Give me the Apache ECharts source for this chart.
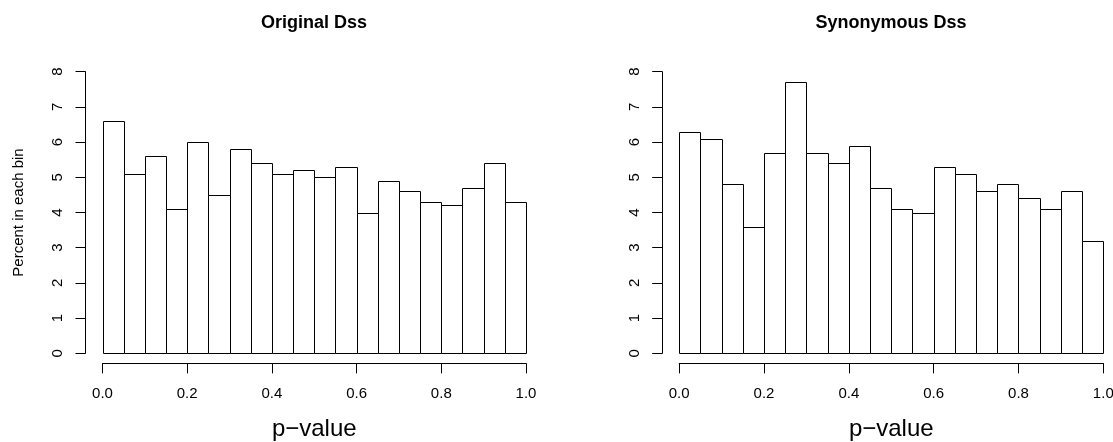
<!DOCTYPE html>
<html>
<head>
<meta charset="utf-8">
<script src="https://cdn.jsdelivr.net/npm/echarts@6/dist/echarts.min.js"></script>
<style>
html, body { margin: 0; padding: 0; background: #fff; }
#chart { width: 1113px; height: 442px; }
</style>
</head>
<body>
<div id="chart"></div>
<script>
// histogram bins (p-value), 0.05 wide
const binStarts = [0.00, 0.05, 0.10, 0.15, 0.20, 0.25, 0.30, 0.35, 0.40, 0.45,
                   0.50, 0.55, 0.60, 0.65, 0.70, 0.75, 0.80, 0.85, 0.90, 0.95];
const binEnds = [0.05, 0.10, 0.15, 0.20, 0.25, 0.30, 0.35, 0.40, 0.45, 0.50,
                 0.55, 0.60, 0.65, 0.70, 0.75, 0.80, 0.85, 0.90, 0.95, 1.00];
// percent in each bin
const originalPct = [6.6, 5.1, 5.6, 4.1, 6.0, 4.5, 5.8, 5.4, 5.1, 5.2,
                     5.0, 5.3, 4.0, 4.9, 4.6, 4.3, 4.2, 4.7, 5.4, 4.3];
const synonymousPct = [6.3, 6.1, 4.8, 3.6, 5.7, 7.7, 5.7, 5.4, 5.9, 4.7,
                       4.1, 4.0, 5.3, 5.1, 4.6, 4.8, 4.4, 4.1, 4.6, 3.2];
const panelTitles = ["Original Dss", "Synonymous Dss"];

const chart = echarts.init(document.getElementById("chart"));

const toBins = (vals) => vals.map((v, i) => [binStarts[i], binEnds[i], v]);

const renderBin = (params, api) => {
  const p0 = api.coord([api.value(0), 0]);
  const p1 = api.coord([api.value(1), api.value(2)]);
  const x0 = Math.round(p0[0]) + 0.5;
  const x1 = Math.round(p1[0]) + 0.5;
  const yb = Math.round(p0[1]) + 0.5;
  const yt = Math.round(p1[1]) + 0.5;
  return {
    type: "rect",
    shape: { x: x0, y: yt, width: x1 - x0, height: yb - yt },
    style: { fill: "#fff", stroke: "#000", lineWidth: 1 }
  };
};

const font = "Liberation Sans, Arial, Helvetica, sans-serif";

const makeX = (idx) => ({
  gridIndex: idx,
  type: "value",
  min: 0,
  max: 1,
  interval: 0.2,
  offset: 10,
  axisLine: { show: true, onZero: false, lineStyle: { color: "#000", width: 1 } },
  axisTick: { show: true, length: 10, lineStyle: { color: "#000" } },
  axisLabel: {
    fontSize: 15, color: "#000", fontFamily: font, margin: 23,
    formatter: (v) => v.toFixed(1)
  },
  splitLine: { show: false },
  name: "p−value",
  nameLocation: "middle",
  nameGap: 54,
  nameTextStyle: { fontSize: 24, color: "#000", fontFamily: font }
});

const makeY = (idx, name) => ({
  gridIndex: idx,
  type: "value",
  min: 0,
  max: 8,
  interval: 1,
  offset: 17,
  axisLine: { show: true, onZero: false, lineStyle: { color: "#000", width: 1 } },
  axisTick: { show: true, length: 10, lineStyle: { color: "#000" } },
  axisLabel: { fontSize: 15, color: "#000", fontFamily: font, rotate: 90, margin: 20 },
  splitLine: { show: false },
  name: name,
  nameLocation: "middle",
  nameGap: 59,
  nameTextStyle: { fontSize: 15, color: "#000", fontFamily: font }
});

const option = {
  animation: false,
  backgroundColor: "#fff",
  title: [
    {
      text: panelTitles[0], left: 314, top: 14, textAlign: "center", padding: 0,
      textStyle: { fontSize: 18, fontWeight: "bold", color: "#000", fontFamily: font }
    },
    {
      text: panelTitles[1], left: 891, top: 14, textAlign: "center", padding: 0,
      textStyle: { fontSize: 18, fontWeight: "bold", color: "#000", fontFamily: font }
    }
  ],
  grid: [
    { left: 102.5, right: 587, top: 71.7, bottom: 88.7, outerBoundsMode: "none", containLabel: false },
    { left: 679.2, right: 9.7, top: 71.7, bottom: 88.7, outerBoundsMode: "none", containLabel: false }
  ],
  xAxis: [makeX(0), makeX(1)],
  yAxis: [makeY(0, "Percent in each bin"), makeY(1, "")],
  series: [
    {
      type: "custom",
      xAxisIndex: 0, yAxisIndex: 0,
      renderItem: renderBin,
      encode: { x: [0, 1], y: 2 },
      data: toBins(originalPct)
    },
    {
      type: "custom",
      xAxisIndex: 1, yAxisIndex: 1,
      renderItem: renderBin,
      encode: { x: [0, 1], y: 2 },
      data: toBins(synonymousPct)
    }
  ]
};

chart.setOption(option);
</script>
</body>
</html>
